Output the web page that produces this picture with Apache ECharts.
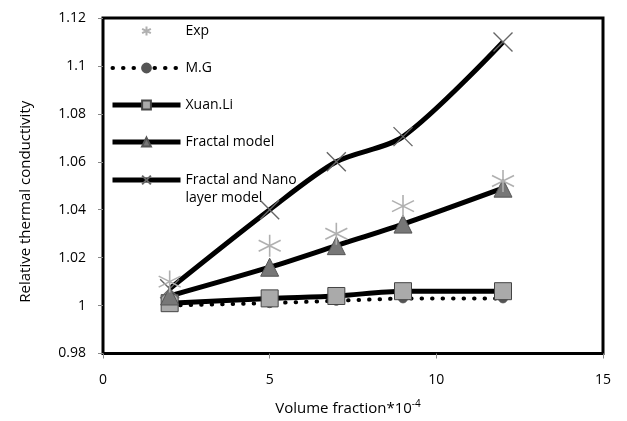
<!DOCTYPE html>
<html><head><meta charset="utf-8">
<script src="https://cdn.jsdelivr.net/npm/echarts@6/dist/echarts.min.js"></script>
<style>html,body{margin:0;padding:0;background:#fff}#c{width:627px;height:421px}</style>
</head><body><div id="c"></div>
<script>
const xValues = [2, 5, 7, 9, 12];
const expData = [1.010, 1.025, 1.030, 1.0415, 1.052];
const mgData = [1.000, 1.001, 1.002, 1.003, 1.003];
const xuanLiData = [1.001, 1.003, 1.004, 1.006, 1.006];
const fractalData = [1.004, 1.016, 1.025, 1.034, 1.049];
const fractalNanoData = [1.007, 1.040, 1.060, 1.0705, 1.110];
const seriesNames = ['Exp', 'M.G', 'Xuan.Li', 'Fractal model', 'Fractal and Nano layer model'];

const pair = arr => xValues.map((x, i) => [x, arr[i]]);
const FONT = 'Open Sans';
const asterisk = 'path://M0,-10L0,10M-8.66,-5L8.66,5M-8.66,5L8.66,-5';
const cross = 'path://M-10,-10L10,10M-10,10L10,-10';
const legendText = {fontFamily: FONT, fontSize: 14, color: '#000', lineHeight: 18};
const legendBase = {orient: 'vertical', left: 110, padding: 0, itemGap: 19, itemWidth: 68, itemHeight: 11,
  textStyle: legendText, lineStyle: {width: 'inherit', type: 'inherit'}};

const chart = echarts.init(document.getElementById('c'));
chart.setOption({
  animation: false,
  grid: {left: 103, right: 24, top: 18, bottom: 66, show: true, borderColor: '#000', borderWidth: 3},
  legend: [
    Object.assign({}, legendBase, {top: 22, data: seriesNames.slice(0, 4)}),
    Object.assign({}, legendBase, {top: 153, data: [seriesNames[4]],
      formatter: () => '\nFractal and Nano\nlayer model'})
  ],
  xAxis: {
    type: 'value', min: 0, max: 15, interval: 5,
    name: 'Volume fraction*10{s|-4}', nameLocation: 'middle', nameGap: 46,
    nameTextStyle: {fontFamily: FONT, fontSize: 15, color: '#000', padding: [0, 10, 0, 0],
      rich: {s: {fontFamily: FONT, fontSize: 10, verticalAlign: 'top', padding: [0, 0, 8, 0]}}},
    axisLine: {show: false},
    axisTick: {show: true, length: 5, lineStyle: {color: '#888'}},
    axisLabel: {fontFamily: FONT, fontSize: 14, color: '#000', margin: 20},
    splitLine: {show: false}
  },
  yAxis: {
    type: 'value', min: 0.98, max: 1.12, interval: 0.02,
    name: 'Relative thermal conductivity', nameLocation: 'middle', nameGap: 70,
    nameTextStyle: {fontFamily: FONT, fontSize: 15, color: '#000', padding: [0, 32, 0, 0]},
    axisLine: {show: false},
    axisTick: {show: true, length: 5, lineStyle: {color: '#888'}},
    axisLabel: {fontFamily: FONT, fontSize: 14, color: '#000', margin: 17,
      formatter: v => String(parseFloat(v.toFixed(2)))},
    splitLine: {show: false}
  },
  series: [
    {name: seriesNames[0], type: 'line', data: pair(expData), symbol: asterisk, symbolSize: 22,
      lineStyle: {width: 0, opacity: 0}, itemStyle: {color: 'transparent', borderColor: '#b0b0b0', borderWidth: 1.6}, z: 5},
    {name: seriesNames[1], type: 'line', data: pair(mgData), symbol: 'circle', symbolSize: 9,
      lineStyle: {width: 4, type: [0.5, 10], cap: 'round', color: '#000'}, itemStyle: {color: '#555', borderColor: '#555', borderWidth: 1}, z: 2},
    {name: seriesNames[2], type: 'line', data: pair(xuanLiData), symbol: 'rect', symbolSize: 17, smooth: 0.3,
      lineStyle: {width: 5, color: '#000'}, itemStyle: {color: '#aaa', borderColor: '#444', borderWidth: 1}, z: 3},
    {name: seriesNames[3], type: 'line', data: pair(fractalData), symbol: 'triangle', symbolSize: 18, smooth: 0.3,
      lineStyle: {width: 5, color: '#000'}, itemStyle: {color: '#777', borderColor: '#555', borderWidth: 1}, z: 3},
    {name: seriesNames[4], type: 'line', data: pair(fractalNanoData), symbol: cross, symbolSize: 19, smooth: 0.3,
      lineStyle: {width: 5, color: '#000'}, itemStyle: {color: 'transparent', borderColor: '#666', borderWidth: 1.4}, z: 4}
  ]
});
</script></body></html>
